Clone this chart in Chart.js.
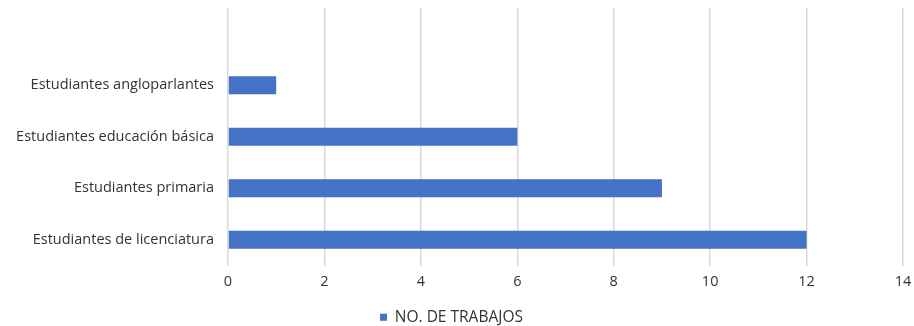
<!DOCTYPE html>
<html>
<head>
<meta charset="utf-8">
<script src="https://cdn.jsdelivr.net/npm/chart.js@4"></script>
<style>
  html, body { margin: 0; padding: 0; background: #fff; }
  #wrap { width: 914px; height: 326px; }
</style>
</head>
<body>
<div id="wrap"><canvas id="grafico"></canvas></div>
<script>
// Datos del gráfico (la primera categoría va vacía, como en el original)
const categorias = ['', 'Estudiantes angloparlantes', 'Estudiantes educación básica', 'Estudiantes primaria', 'Estudiantes de licenciatura'];
const trabajos = [null, 1, 6, 9, 12];
const serieNombre = 'NO. DE TRABAJOS';
const ticksX = [0, 2, 4, 6, 8, 10, 12, 14];

const fuente = { family: '"Open Sans", "Noto Sans", sans-serif', size: 14.5 };
const colorTexto = '#333333';

const ctx = document.getElementById('grafico').getContext('2d');
new Chart(ctx, {
    type: 'bar',
    data: {
        labels: categorias,
        datasets: [{
            label: serieNombre,
            data: trabajos,
            backgroundColor: '#4472C4',
            borderWidth: 0,
            barPercentage: 0.35,
            categoryPercentage: 1
        }]
    },
    options: {
        indexAxis: 'y',
        responsive: true,
        maintainAspectRatio: false,
        animation: false,
        layout: { padding: { top: 8, right: 11, left: 0, bottom: -9 } },
        plugins: {
            legend: {
                position: 'bottom',
                labels: {
                    color: colorTexto,
                    font: { family: fuente.family, size: 15.5 },
                    boxWidth: 7,
                    boxHeight: 7,
                    padding: 10
                }
            },
            tooltip: { enabled: false }
        },
        scales: {
            x: {
                min: ticksX[0],
                max: ticksX[ticksX.length - 1],
                afterBuildTicks: s => { s.ticks = ticksX.map(v => ({ value: v })); },
                grid: { color: '#d9d9d9', lineWidth: 1.5, drawTicks: false },
                border: { display: false },
                ticks: { color: colorTexto, font: fuente, padding: 8 },
                afterFit: s => { s.height = 34; s.paddingLeft = 0; s.paddingRight = 0; }
            },
            y: {
                grid: { display: false, drawTicks: false },
                border: { display: false },
                ticks: { color: colorTexto, font: fuente, padding: 14, autoSkip: false },
                afterFit: s => { s.width = 228; s.paddingTop = 0; s.paddingBottom = 0; }
            }
        }
    }
});
</script>
</body>
</html>
